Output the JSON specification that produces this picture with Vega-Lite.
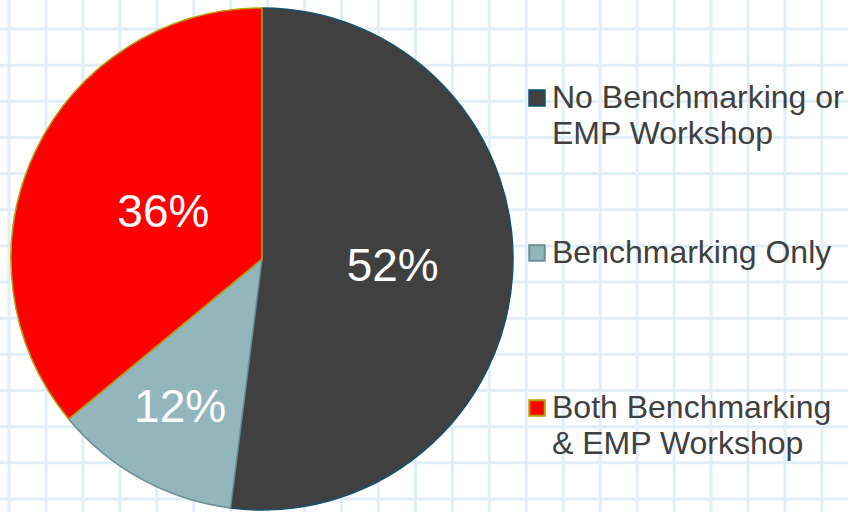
{
  "$schema": "https://vega.github.io/schema/vega-lite/v6.json",
  "width": 848,
  "height": 512,
  "autosize": {"type": "none"},
  "padding": 0,
  "background": "#ffffff",
  "config": {"view": {"stroke": null}},
  "layer": [
    {
      "data": {"values": [{"gx":0},{"gx":1},{"gx":2},{"gx":3},{"gx":4},{"gx":5},{"gx":6},{"gx":7},{"gx":8},{"gx":9},{"gx":10},{"gx":11},{"gx":12},{"gx":13},{"gx":14},{"gx":15},{"gx":16},{"gx":17},{"gx":18},{"gx":19},{"gx":20},{"gx":21},{"gx":22}]},
      "mark": {"type": "rule", "color": "#e0eff7", "strokeWidth": 3},
      "encoding": {
        "x": {"field": "gx", "type": "quantitative", "scale": {"domain": [-0.2436, 22.707], "nice": false, "zero": false}, "axis": null}
      }
    },
    {
      "data": {"values": [{"gy":0},{"gy":1},{"gy":2},{"gy":3},{"gy":4},{"gy":5},{"gy":6},{"gy":7},{"gy":8},{"gy":9},{"gy":10},{"gy":11},{"gy":12},{"gy":13}]},
      "mark": {"type": "rule", "color": "#e0eff7", "strokeWidth": 3},
      "encoding": {
        "y": {"field": "gy", "type": "quantitative", "scale": {"domain": [-0.802, 13.361], "nice": false, "zero": false, "reverse": true}, "axis": null}
      }
    },
    {
      "data": {"name": "slices", "values": [
        {"category": "No Benchmarking or EMP Workshop", "share": 0.52, "order": 1},
        {"category": "Benchmarking Only", "share": 0.12, "order": 2},
        {"category": "Both Benchmarking & EMP Workshop", "share": 0.36, "order": 3}
      ]},
      "layer": [
        {
          "mark": {"type": "arc", "outerRadius": 251, "strokeWidth": 1.5},
          "encoding": {
            "x": {"datum": 6.847, "type": "quantitative"},
            "y": {"datum": 6.362, "type": "quantitative"},
            "theta": {"field": "share", "type": "quantitative", "stack": true},
            "order": {"field": "order"},
            "fill": {
              "field": "category", "type": "nominal",
              "scale": {"domain": ["No Benchmarking or EMP Workshop", "Benchmarking Only", "Both Benchmarking & EMP Workshop"], "range": ["#404040", "#93b6bd", "#ff0000"]},
              "legend": {
                "orient": "none", "legendX": 521, "legendY": 82, "direction": "vertical", "padding": 0,
                "title": null, "symbolType": "square", "symbolSize": 240, "symbolStrokeWidth": 2,
                "labelFont": "Liberation Sans", "labelFontSize": 32, "labelColor": "#404040",
                "labelLimit": 400, "labelOffset": -1, "rowPadding": 87, "gridAlign": "all",
                "labelExpr": "datum.label == 'No Benchmarking or EMP Workshop' ? ['No Benchmarking or', 'EMP Workshop'] : datum.label == 'Both Benchmarking & EMP Workshop' ? ['Both Benchmarking', '& EMP Workshop'] : datum.label",
                "encode": {"labels": {"update": {"lineHeight": {"value": 36}}}}
              }
            },
            "stroke": {
              "field": "category", "type": "nominal",
              "scale": {"domain": ["No Benchmarking or EMP Workshop", "Benchmarking Only", "Both Benchmarking & EMP Workshop"], "range": ["#17506b", "#6d8c93", "#b5a200"]}
            }
          }
        },
        {
          "mark": {"type": "text", "fontSize": 46, "font": "Liberation Sans", "fill": "#ffffff",
            "radius": {"expr": "datum.category == 'Benchmarking Only' ? 170 : datum.category == 'Both Benchmarking & EMP Workshop' ? 109 : 131"}},
          "encoding": {
            "x": {"datum": 6.847, "type": "quantitative"},
            "y": {"datum": 6.362, "type": "quantitative"},
            "theta": {"field": "share", "type": "quantitative", "stack": true},
            "order": {"field": "order"},
            "text": {"field": "share", "type": "quantitative", "format": ".0%"}
          }
        }
      ]
    }
  ]
}
